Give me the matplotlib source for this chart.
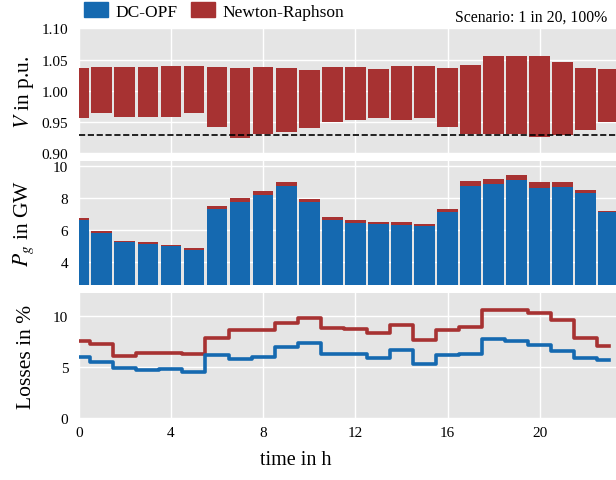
import numpy as np
import matplotlib
matplotlib.use("Agg")
import matplotlib.pyplot as plt
from matplotlib.patches import Patch

# hourly values
hours = np.arange(24)

v_max = [1.037, 1.0385, 1.0385, 1.0385, 1.040, 1.040, 1.0385, 1.037, 1.0385, 1.037, 1.034, 1.0385,
         1.0385, 1.035, 1.040, 1.040, 1.037, 1.0415, 1.056, 1.056, 1.056, 1.0465, 1.037, 1.035]
v_min = [0.956, 0.965, 0.959, 0.959, 0.959, 0.964, 0.943, 0.924, 0.931, 0.935, 0.940, 0.951,
         0.954, 0.956, 0.954, 0.956, 0.943, 0.931, 0.931, 0.931, 0.9255, 0.929, 0.938, 0.951]
v_limit = 0.93

pg_dc = [6.64, 5.85, 5.27, 5.15, 5.02, 4.77, 7.35, 7.77, 8.23, 8.77, 7.77, 6.64,
         6.48, 6.40, 6.35, 6.27, 7.15, 8.77, 8.90, 9.15, 8.65, 8.73, 8.35, 7.15]
pg_nr = [6.77, 5.98, 5.35, 5.27, 5.08, 4.90, 7.52, 8.02, 8.46, 9.02, 7.96, 6.83,
         6.64, 6.52, 6.52, 6.40, 7.33, 9.08, 9.21, 9.46, 9.02, 9.02, 8.52, 7.21]

loss_dc = [6.05, 5.56, 4.93, 4.74, 4.84, 4.51, 6.24, 5.82, 5.98, 6.96, 7.39, 6.31,
           6.31, 5.95, 6.70, 5.29, 6.21, 6.31, 7.75, 7.55, 7.22, 6.63, 5.92, 5.72]
loss_nr = [7.55, 7.29, 6.08, 6.40, 6.40, 6.31, 7.88, 8.63, 8.63, 9.35, 9.87, 8.86,
           8.79, 8.40, 9.18, 7.71, 8.63, 8.99, 10.65, 10.62, 10.36, 9.58, 7.91, 7.06]

blue = '#1569b0'
red = '#a73232'

plt.rcParams['font.family'] = 'serif'
plt.rcParams['font.serif'] = ['Liberation Serif', 'DejaVu Serif']
plt.rcParams['mathtext.fontset'] = 'stix'

fig = plt.figure(figsize=(6.16, 4.81), dpi=100)
left, width = 0.1278, 1 - 0.1278
ax1 = fig.add_axes([left, 0.679, width, 0.26])
ax2 = fig.add_axes([left, 0.406, width, 0.2566])
ax3 = fig.add_axes([left, 0.1283, width, 0.26])

for ax in (ax1, ax2, ax3):
    ax.set_facecolor('#e5e5e5')
    for s in ax.spines.values():
        s.set_visible(False)
    ax.grid(True, color='white', lw=1.0)
    ax.set_axisbelow(True)
    ax.set_xlim(0.04, 23.31)
    ax.set_xticks([0, 4, 8, 12, 16, 20])
    ax.tick_params(length=0, labelsize=11, pad=7.5)
    ax.tick_params(axis='x', pad=5.5)
    ax.yaxis.set_label_coords(-0.08, 0.5)

# voltage band
vmin = np.array(v_min)
vmax = np.array(v_max)
ax1.bar(hours, vmax - vmin, bottom=vmin, width=0.9, color=red, zorder=2)
ax1.axhline(v_limit, color='black', ls='--', lw=1.2, zorder=3)
ax1.set_ylim(0.90, 1.10)
ax1.set_yticks([0.90, 0.95, 1.00, 1.05, 1.10])
ax1.set_yticklabels(['%.2f' % t for t in [0.90, 0.95, 1.00, 1.05, 1.10]])
ax1.set_xticklabels([])
ax1.set_ylabel('$V$ in p.u.', fontsize=15.5)

# generation
ax2.bar(hours, pg_nr, width=0.9, color=red, zorder=2)
ax2.bar(hours, pg_dc, width=0.9, color=blue, zorder=3)
ax2.set_ylim(2.6, 10.31)
ax2.set_yticks([4, 6, 8, 10])
ax2.set_xticklabels([])
ax2.set_ylabel('$P_g$ in GW', fontsize=15.5)

# losses
ax3.step(hours, loss_nr, where='mid', color=red, lw=2.6, zorder=3)
ax3.step(hours, loss_dc, where='mid', color=blue, lw=2.6, zorder=3)
ax3.set_ylim(0, 12.25)
ax3.set_yticks([0, 5, 10])
ax3.set_ylabel('Losses in %', fontsize=15.5)
ax3.set_xlabel('time in h', fontsize=14.5)
ax3.xaxis.set_label_coords(0.4044, -0.25)

handles = [Patch(color=blue, label='DC-OPF'), Patch(color=red, label='Newton-Raphson')]
fig.legend(handles=handles, loc='center left', bbox_to_anchor=(0.136, 0.975), ncol=2,
           frameon=False, fontsize=12.5, handlelength=1.4, handleheight=0.9,
           handletextpad=0.4, columnspacing=0.8, borderaxespad=0, borderpad=0)
fig.text(0.985, 0.963, 'Scenario: 1 in 20, 100%', ha='right', va='center', fontsize=11.3)

fig.savefig('out.png', dpi=100)
